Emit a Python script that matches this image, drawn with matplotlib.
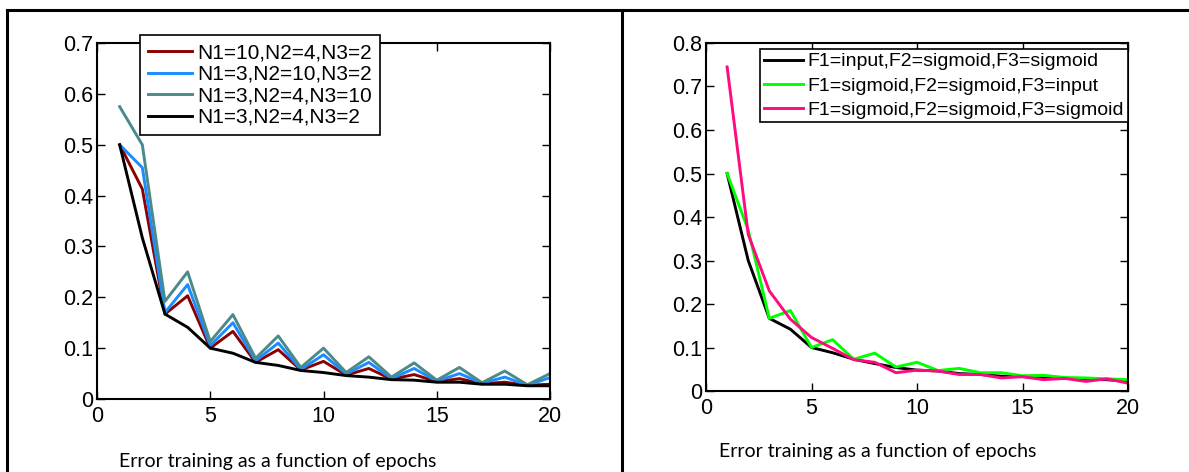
import matplotlib
matplotlib.use("Agg")
import matplotlib.pyplot as plt
from matplotlib.lines import Line2D
import numpy as np

plt.rcParams['font.family'] = ['Liberation Sans', 'DejaVu Sans']

# epochs and training error for each network setup
epochs = np.arange(1, 21)

# left: number of neurons per layer
err_n10_4_2 = [0.5, 0.413, 0.167, 0.203, 0.10, 0.133, 0.072, 0.097, 0.057, 0.074,
               0.047, 0.060, 0.039, 0.048, 0.034, 0.040, 0.030, 0.033, 0.027, 0.029]
err_n3_10_2 = [0.5, 0.455, 0.170, 0.225, 0.105, 0.150, 0.075, 0.110, 0.058, 0.087,
               0.049, 0.072, 0.040, 0.060, 0.035, 0.050, 0.031, 0.043, 0.027, 0.042]
err_n3_4_10 = [0.575, 0.50, 0.192, 0.250, 0.113, 0.166, 0.080, 0.124, 0.062, 0.100,
               0.052, 0.083, 0.043, 0.071, 0.037, 0.062, 0.032, 0.055, 0.028, 0.050]
err_n3_4_2 = [0.5, 0.317, 0.167, 0.141, 0.10, 0.090, 0.072, 0.066, 0.056, 0.052,
              0.046, 0.043, 0.038, 0.037, 0.033, 0.033, 0.029, 0.029, 0.026, 0.026]
labels_n = ['N1=10,N2=4,N3=2', 'N1=3,N2=10,N3=2', 'N1=3,N2=4,N3=10', 'N1=3,N2=4,N3=2']

# right: activation functions per layer
err_in_sig_sig = [0.5, 0.30, 0.167, 0.142, 0.10, 0.088, 0.073, 0.063, 0.054, 0.048,
                  0.046, 0.040, 0.038, 0.034, 0.033, 0.030, 0.029, 0.027, 0.026, 0.022]
err_sig_sig_in = [0.5, 0.37, 0.167, 0.185, 0.10, 0.118, 0.073, 0.087, 0.055, 0.066,
                  0.047, 0.052, 0.042, 0.042, 0.035, 0.036, 0.031, 0.030, 0.028, 0.026]
err_sig_sig_sig = [0.745, 0.36, 0.230, 0.165, 0.123, 0.098, 0.072, 0.066, 0.042, 0.048,
                   0.046, 0.038, 0.038, 0.030, 0.033, 0.026, 0.029, 0.022, 0.028, 0.018]
labels_f = ['F1=input,F2=sigmoid,F3=sigmoid', 'F1=sigmoid,F2=sigmoid,F3=input',
            'F1=sigmoid,F2=sigmoid,F3=sigmoid']

caption = 'Error training as a function of epochs'

fig = plt.figure(figsize=(11.89, 4.72), dpi=100)

# table frame around the two panels
for xs, ys in [([0.006, 1.0], [0.979, 0.979]),
               ([0.006, 0.006], [0.0, 0.979]),
               ([0.523, 0.523], [0.0, 0.979])]:
    fig.add_artist(Line2D(xs, ys, color='black', lw=2.2, transform=fig.transFigure))


def style_axes(ax, ymax):
    ax.set_xlim(0, 20)
    ax.set_ylim(0, ymax)
    ax.set_xticks([0, 5, 10, 15, 20])
    ax.set_xticklabels(['0', '5', '10', '15', '20'])
    yt = np.round(np.arange(0, ymax + 0.01, 0.1), 1)
    ax.set_yticks(yt)
    ax.set_yticklabels(['0'] + ['%.1f' % v for v in yt[1:]])
    ax.tick_params(direction='in', top=True, right=True, labelsize=15.5,
                   length=6, width=1)
    ax.tick_params(axis='y', pad=3)
    ax.tick_params(axis='x', pad=5)
    for s in ax.spines.values():
        s.set_linewidth(1.5)


# left panel
ax1 = fig.add_axes([0.0816, 0.1547, 0.381, 0.754])
ax1.plot(epochs, err_n10_4_2, color='#8b0000', lw=2.1, label=labels_n[0])
ax1.plot(epochs, err_n3_10_2, color='#1a8cff', lw=2.1, label=labels_n[1])
ax1.plot(epochs, err_n3_4_10, color='#4a8a8a', lw=2.1, label=labels_n[2])
ax1.plot(epochs, err_n3_4_2, color='black', lw=2.1, label=labels_n[3])
style_axes(ax1, 0.7)
leg1 = ax1.legend(loc='upper left', bbox_to_anchor=(0.1177, 0.9258),
                  bbox_transform=fig.transFigure, fontsize=15.0, fancybox=False,
                  framealpha=1, edgecolor='black', handlelength=2.1,
                  borderpad=0.4, labelspacing=0.12, handletextpad=0.25,
                  borderaxespad=0)
leg1.get_frame().set_linewidth(1.2)
fig.text(0.2334, 0.0212, caption, fontsize=14, family='Lato', ha='center', va='center')

# right panel
ax2 = fig.add_axes([0.5938, 0.1716, 0.3549, 0.7373])
ax2.plot(epochs, err_in_sig_sig, color='black', lw=2.1, label=labels_f[0])
ax2.plot(epochs, err_sig_sig_in, color='#00ff00', lw=2.1, label=labels_f[1])
ax2.plot(epochs, err_sig_sig_sig, color='#ff0a80', lw=2.1, label=labels_f[2])
style_axes(ax2, 0.8)
leg2 = ax2.legend(loc='upper left', bbox_to_anchor=(0.6392, 0.8962),
                  bbox_transform=fig.transFigure, fontsize=14.0, fancybox=False,
                  framealpha=1, edgecolor='black', handlelength=2.0,
                  borderpad=0.2, labelspacing=0.33, handletextpad=0.25,
                  borderaxespad=0)
leg2.get_frame().set_linewidth(1.2)
fig.text(0.7384, 0.0424, caption, fontsize=14, family='Lato', ha='center', va='center')

fig.savefig('out.png', dpi=100)
